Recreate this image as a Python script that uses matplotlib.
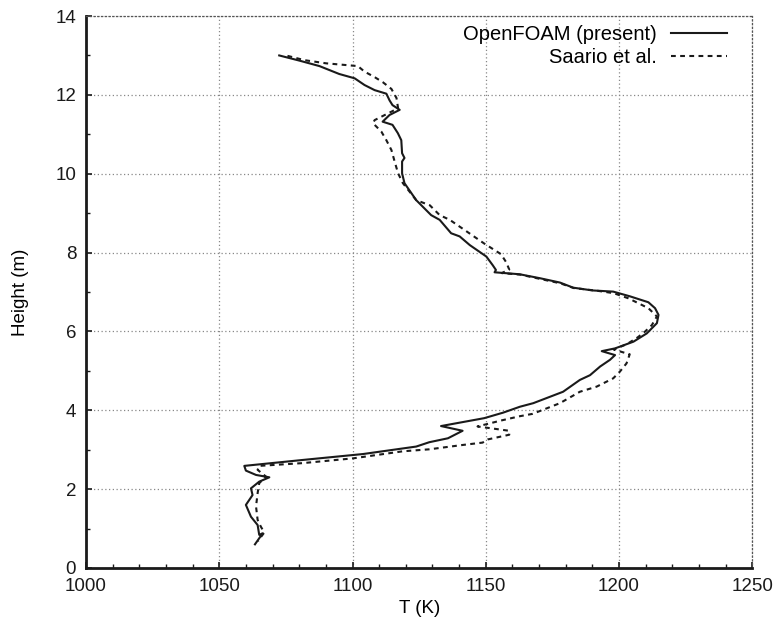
import matplotlib
matplotlib.use('Agg')
import matplotlib.pyplot as plt
from matplotlib.ticker import MultipleLocator

# OpenFOAM (present) profile: temperature (K) vs height (m)
T_openfoam = [1072.5, 1080, 1087.6, 1095, 1100.8, 1104.5, 1108.3, 1112.7, 1113.9, 1115,
              1117.7, 1113.9, 1111.3, 1115, 1117, 1118.3, 1118.6, 1119.5, 1118.6, 1118.6,
              1119.5, 1123.9, 1129.5, 1132.7, 1137, 1140.2, 1144, 1150.2, 1152.6, 1153.8,
              1153.3, 1162.7, 1170.3, 1177.8, 1182.8, 1190, 1197.8, 1204.1, 1211, 1213.5,
              1214.8, 1214.2, 1210.4, 1205.4, 1198.5, 1193.5, 1198.5, 1196.6, 1192.9, 1189.1,
              1185.3, 1179, 1167.8, 1162.8, 1156.5, 1149.4, 1133.2, 1141.3, 1135.8, 1128.8,
              1123.9, 1103.9, 1081.3, 1059.4, 1060, 1063.8, 1068.8, 1065, 1061.9, 1062.5,
              1060, 1061.9, 1064.4, 1065, 1066.3, 1063.4]
h_openfoam = [13.0, 12.87, 12.73, 12.53, 12.42, 12.25, 12.12, 12.03, 11.86, 11.74,
              11.62, 11.49, 11.32, 11.24, 11.03, 10.85, 10.52, 10.40, 10.31, 10.01,
              9.76, 9.33, 8.95, 8.83, 8.49, 8.41, 8.19, 7.90, 7.68, 7.56,
              7.50, 7.45, 7.35, 7.24, 7.11, 7.04, 7.01, 6.89, 6.74, 6.59,
              6.42, 6.21, 5.95, 5.74, 5.57, 5.50, 5.40, 5.28, 5.11, 4.89,
              4.77, 4.47, 4.18, 4.09, 3.94, 3.80, 3.60, 3.48, 3.29, 3.19,
              3.08, 2.89, 2.74, 2.59, 2.47, 2.36, 2.30, 2.19, 2.02, 1.85,
              1.60, 1.30, 1.09, 0.84, 0.88, 0.60]

# Saario et al. profile
T_saario = [1075.6, 1082, 1090.1, 1102, 1104.5, 1108.3, 1111.4, 1114.6, 1116.5, 1117.1,
            1113.3, 1108.3, 1107.7, 1110.8, 1112.7, 1114.6, 1115.8, 1117.1, 1118.9, 1123.9,
            1129, 1132.7, 1136.5, 1142.1, 1149.4, 1155.7, 1157.7, 1158.8, 1156, 1163,
            1170.5, 1178, 1183, 1192, 1198, 1203.5, 1211, 1214.2, 1212.3, 1209.8,
            1207, 1203, 1198, 1204, 1202.8, 1200.3, 1197.8, 1191.6, 1185.3, 1177.8,
            1167.6, 1162.8, 1155.7, 1146.9, 1158.8, 1158.8, 1150.7, 1148.8, 1141.3, 1128.8,
            1118.9, 1100.1, 1081.3, 1065, 1064.4, 1067.5, 1065, 1064.4, 1063.8, 1064.4,
            1065.6, 1066.9, 1064.5]
h_saario = [12.99, 12.88, 12.80, 12.73, 12.59, 12.45, 12.32, 12.15, 11.92, 11.66,
            11.53, 11.36, 11.28, 11.07, 10.85, 10.60, 10.31, 10.01, 9.76, 9.33,
            9.20, 8.95, 8.83, 8.57, 8.23, 7.96, 7.75, 7.57, 7.48, 7.44,
            7.33, 7.22, 7.10, 7.03, 6.97, 6.84, 6.59, 6.38, 6.16, 6.00,
            5.85, 5.68, 5.54, 5.42, 5.19, 4.98, 4.81, 4.60, 4.47, 4.18,
            3.91, 3.85, 3.74, 3.59, 3.48, 3.38, 3.26, 3.18, 3.12, 3.01,
            2.96, 2.78, 2.66, 2.59, 2.49, 2.32, 2.15, 1.90, 1.56, 1.22,
            1.05, 0.90, 0.68]

plt.rcParams['font.family'] = ['Liberation Sans', 'DejaVu Sans']
plt.rcParams['font.size'] = 13.5

fig = plt.figure(figsize=(7.78, 6.33), dpi=100)
ax = fig.add_axes([0.1105, 0.1027, 0.8565, 0.872])

ax.plot(T_openfoam, h_openfoam, color='#1a1a1a', lw=1.5, label='OpenFOAM (present)')
ax.plot(T_saario, h_saario, color='#1a1a1a', lw=1.5, dashes=(2.3, 2.1), label='Saario et al.')

ax.set_xlim(1000, 1250)
ax.set_ylim(0, 14)
ax.xaxis.set_major_locator(MultipleLocator(50))
ax.xaxis.set_minor_locator(MultipleLocator(10))
ax.yaxis.set_major_locator(MultipleLocator(2))
ax.yaxis.set_minor_locator(MultipleLocator(1))
ax.tick_params(which='both', direction='in', colors='#1a1a1a', labelcolor='#1a1a1a')
ax.tick_params(which='major', length=4, width=1.2, pad=7)
ax.tick_params(which='minor', length=3, width=1.0)

ax.grid(True, which='major', linestyle=(0, (1, 2)), color='#888888', lw=0.9)
for s in ['left', 'bottom']:
    ax.spines[s].set_linewidth(2)
    ax.spines[s].set_color('#1a1a1a')
for s in ['top', 'right']:
    ax.spines[s].set_linestyle((0, (1, 2)))
    ax.spines[s].set_linewidth(0.9)
    ax.spines[s].set_color('#555555')

ax.set_xlabel('T (K)', va='center')
ax.xaxis.set_label_coords(0.5, -0.0725)
ax.set_ylabel('Height (m)', va='center')
ax.yaxis.set_label_coords(-0.098, 0.5)

leg = ax.legend(loc='upper right', frameon=False, markerfirst=False, handlelength=2.8,
                handletextpad=0.7, labelspacing=0.2, borderpad=0, borderaxespad=0,
                bbox_to_anchor=(0.9625, 0.984), fontsize=14.5)

fig.savefig('out.png', dpi=100)
